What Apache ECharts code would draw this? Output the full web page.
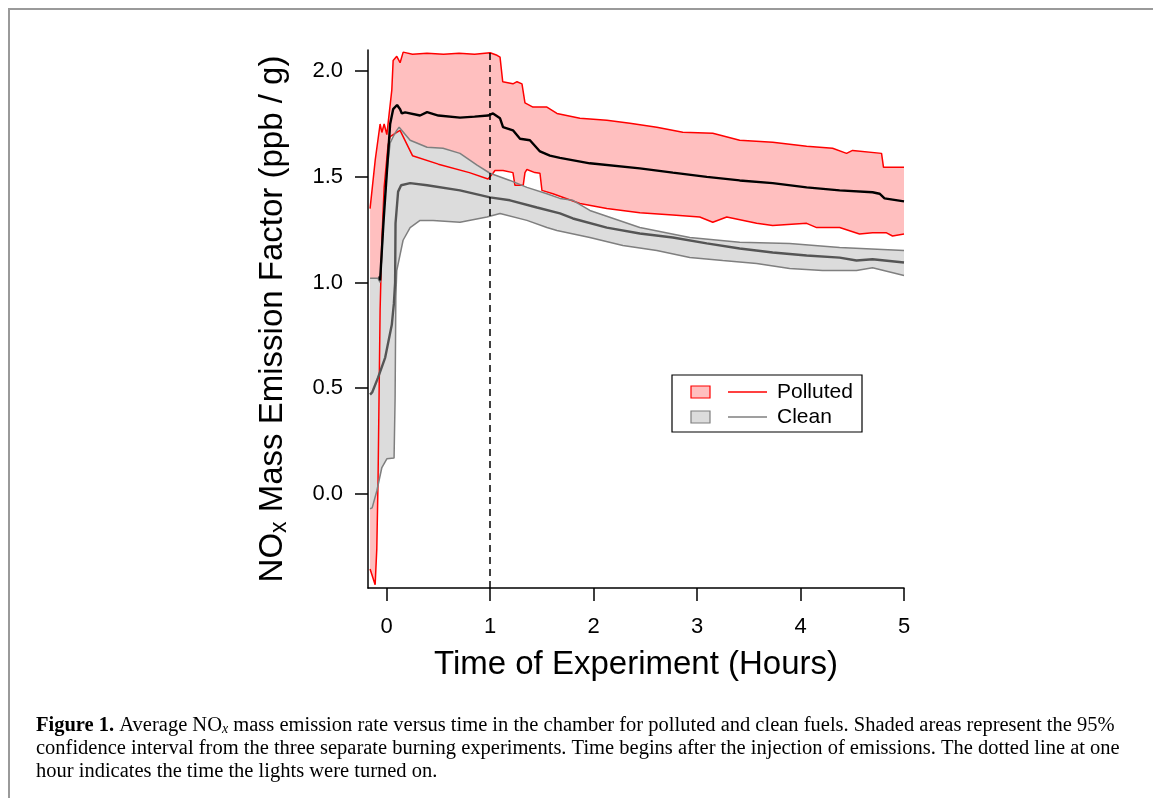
<!DOCTYPE html>
<html>
<head>
<meta charset="utf-8">
<script src="https://cdn.jsdelivr.net/npm/echarts@6/dist/echarts.min.js"></script>
<style>
html,body{margin:0;padding:0;background:#fff;}
#chart{width:1153px;height:798px;}
</style>
</head>
<body>
<div id="chart"></div>
<script>
// values: [hours, ppb/g]
var pollutedUpper = [[-0.16,1.35],[-0.11,1.58],[-0.063,1.75],[-0.046,1.71],[-0.024,1.75],[0.002,1.70],[0.05,1.91],[0.063,2.05],[0.098,2.07],[0.13,2.04],[0.16,2.09],[0.25,2.08],[0.39,2.085],[0.55,2.08],[0.7,2.085],[0.85,2.08],[1.0,2.087],[1.067,2.075],[1.096,2.066],[1.122,1.95],[1.221,1.94],[1.26,1.95],[1.308,1.94],[1.337,1.85],[1.414,1.83],[1.549,1.83],[1.646,1.80],[1.868,1.777],[2.128,1.768],[2.351,1.753],[2.611,1.735],[2.862,1.711],[3.152,1.706],[3.412,1.673],[3.731,1.664],[4.059,1.645],[4.31,1.635],[4.445,1.611],[4.503,1.625],[4.783,1.611],[4.802,1.545],[5.0,1.545]];
var pollutedLower = [[-0.16,-0.355],[-0.111,-0.43],[-0.095,-0.26],[-0.083,0.06],[-0.063,0.87],[-0.046,1.2],[-0.024,1.45],[0.014,1.65],[0.034,1.69],[0.098,1.71],[0.13,1.72],[0.25,1.6],[0.5,1.56],[0.8,1.52],[0.98,1.49],[1.028,1.517],[1.047,1.53],[1.125,1.53],[1.221,1.52],[1.24,1.46],[1.32,1.46],[1.337,1.52],[1.356,1.535],[1.433,1.52],[1.482,1.517],[1.501,1.436],[1.607,1.42],[1.868,1.374],[2.128,1.35],[2.447,1.33],[2.766,1.32],[3.026,1.31],[3.152,1.285],[3.287,1.31],[3.576,1.28],[3.731,1.27],[4.059,1.28],[4.156,1.26],[4.378,1.26],[4.57,1.23],[4.696,1.235],[4.831,1.235],[4.889,1.22],[5.0,1.23]];
var pollutedMean = [[-0.07,1.03],[-0.063,1.01],[-0.031,1.28],[0.002,1.52],[0.034,1.75],[0.063,1.82],[0.101,1.84],[0.13,1.82],[0.147,1.80],[0.179,1.805],[0.323,1.79],[0.391,1.806],[0.5,1.79],[0.709,1.78],[0.85,1.785],[0.98,1.79],[1.028,1.80],[1.096,1.777],[1.125,1.735],[1.221,1.72],[1.289,1.68],[1.385,1.673],[1.482,1.62],[1.578,1.60],[1.675,1.59],[1.964,1.564],[2.447,1.54],[2.766,1.52],[3.094,1.50],[3.412,1.483],[3.731,1.47],[4.059,1.45],[4.378,1.436],[4.696,1.427],[4.764,1.42],[4.812,1.398],[5.0,1.384]];
var cleanUpper = [[-0.16,1.02],[-0.083,1.02],[-0.063,1.0],[-0.05,1.1],[-0.024,1.35],[0.002,1.52],[0.034,1.66],[0.063,1.69],[0.098,1.72],[0.121,1.735],[0.227,1.673],[0.391,1.64],[0.545,1.635],[0.709,1.611],[0.874,1.555],[0.999,1.517],[1.192,1.483],[1.356,1.45],[1.549,1.42],[1.675,1.398],[1.8,1.389],[1.964,1.341],[2.447,1.26],[2.93,1.213],[3.412,1.19],[3.895,1.185],[4.378,1.166],[5.0,1.152]];
var cleanLower = [[-0.16,-0.07],[-0.14,-0.066],[-0.095,0.014],[-0.046,0.125],[0.002,0.166],[0.072,0.17],[0.082,0.455],[0.089,0.93],[0.098,1.056],[0.159,1.2],[0.227,1.26],[0.323,1.294],[0.449,1.294],[0.709,1.285],[0.97,1.31],[1.096,1.327],[1.356,1.294],[1.549,1.26],[1.646,1.246],[1.964,1.213],[2.283,1.175],[2.611,1.152],[2.93,1.118],[3.248,1.104],[3.576,1.09],[3.895,1.066],[4.213,1.057],[4.541,1.057],[4.696,1.07],[5.0,1.033]];
var cleanMean = [[-0.16,0.47],[-0.14,0.48],[-0.083,0.55],[-0.014,0.645],[0.05,0.8],[0.07,0.9],[0.082,1.0],[0.086,1.28],[0.111,1.43],[0.14,1.46],[0.227,1.47],[0.391,1.46],[0.709,1.436],[0.999,1.403],[1.192,1.389],[1.453,1.355],[1.675,1.327],[1.8,1.303],[2.128,1.26],[2.447,1.232],[2.766,1.213],[3.094,1.185],[3.412,1.161],[3.731,1.142],[4.059,1.128],[4.378,1.118],[4.541,1.104],[4.696,1.11],[5.0,1.095]];
var xTicks = [0,1,2,3,4,5];
var yTicks = [0,0.5,1,1.5,2];
var lightsOn = 1;

var chart = echarts.init(document.getElementById('chart'));

// shaded 95% interval: upper edge then lower edge backwards
function band(upper, lower, fill){
	return {
		type:'custom',
		silent:true,
		data:[[0,0]],
		renderItem:function(params, api){
			var pts = upper.map(function(p){return api.coord(p);});
			var back = lower.slice().reverse().map(function(p){return api.coord(p);});
			return {type:'polygon', shape:{points:pts.concat(back)}, style:{fill:fill}};
		}
	};
}
function line(data, color, width){
	return {type:'line', data:data, showSymbol:false, silent:true, lineStyle:{color:color, width:width}};
}

var meanBlack = line(pollutedMean, '#000', 2.4);
meanBlack.markLine = {
	silent:true,
	symbol:['none','none'],
	label:{show:false},
	lineStyle:{color:'#000', type:[7,5], width:1.5},
	data:[{xAxis:lightsOn}]
};

var font = 'Liberation Sans';
var option = {
	animation:false,
	grid:{left:368, right:249, top:50, bottom:210},
	xAxis:{
		type:'value', min:-0.18, max:5,
		name:'Time of Experiment (Hours)', nameLocation:'middle', nameGap:60,
		nameTextStyle:{fontFamily:font, fontSize:33, color:'#000'},
		axisLine:{onZero:false, lineStyle:{color:'#000', width:1.5}},
		axisTick:{length:13, lineStyle:{color:'#000', width:1.5}, customValues:xTicks},
		axisLabel:{fontFamily:font, fontSize:22, color:'#000', margin:28, customValues:xTicks},
		splitLine:{show:false}
	},
	yAxis:{
		type:'value', min:-0.445, max:2.1,
		name:'{a|NO}{s|x}{a| Mass Emission Factor (ppb / g)}', nameLocation:'middle', nameGap:75,
		nameTextStyle:{
			fontFamily:font, fontSize:33, color:'#000',
			rich:{
				a:{fontFamily:font, fontSize:33, color:'#000', lineHeight:40},
				s:{fontFamily:font, fontSize:23, color:'#000', lineHeight:40, padding:[14,0,0,0]}
			}
		},
		axisLine:{show:true, onZero:false, lineStyle:{color:'#000', width:1.5}},
		axisTick:{show:true, length:13, lineStyle:{color:'#000', width:1.5}, customValues:yTicks},
		axisLabel:{fontFamily:font, fontSize:22, color:'#000', margin:25, customValues:yTicks,
			formatter:function(v){return v.toFixed(1);}},
		splitLine:{show:false}
	},
	series:[
		band(pollutedUpper, pollutedLower, '#ffbfbf'),
		line(pollutedUpper, '#ff0000', 1.5),
		line(pollutedLower, '#ff0000', 1.5),
		band(cleanUpper, cleanLower, '#dcdcdc'),
		line(cleanUpper, '#7f7f7f', 1.5),
		line(cleanLower, '#7f7f7f', 1.5),
		line(cleanMean, '#555555', 2.4),
		meanBlack
	],
	graphic:[
		// figure frame
		{type:'line', shape:{x1:8, y1:9, x2:1153, y2:9}, style:{stroke:'#9a9a9a', lineWidth:2}},
		{type:'line', shape:{x1:9, y1:9, x2:9, y2:798}, style:{stroke:'#9a9a9a', lineWidth:2}},
		// legend
		{type:'rect', shape:{x:672, y:375, width:190, height:57}, style:{fill:'#fff', stroke:'#000', lineWidth:1.2}, z:10},
		{type:'rect', shape:{x:691, y:386, width:19, height:12}, style:{fill:'#ffbfbf', stroke:'#ff0000', lineWidth:1.2}, z:11},
		{type:'line', shape:{x1:728, y1:392, x2:767, y2:392}, style:{stroke:'#ff0000', lineWidth:1.4}, z:11},
		{type:'text', x:777, y:392, style:{text:'Polluted', font:'21px "Liberation Sans"', fill:'#000', verticalAlign:'middle'}, z:11},
		{type:'rect', shape:{x:691, y:411, width:19, height:12}, style:{fill:'#dcdcdc', stroke:'#7f7f7f', lineWidth:1.2}, z:11},
		{type:'line', shape:{x1:728, y1:417, x2:767, y2:417}, style:{stroke:'#7f7f7f', lineWidth:1.4}, z:11},
		{type:'text', x:777, y:417, style:{text:'Clean', font:'21px "Liberation Sans"', fill:'#000', verticalAlign:'middle'}, z:11},
		// caption
		{type:'text', x:36, y:714, style:{
			text:'{b|Figure 1.} Average NO{i|x} mass emission rate versus time in the chamber for polluted and clean fuels. Shaded areas represent the 95%\n'+
				'confidence interval from the three separate burning experiments. Time begins after the injection of emissions. The dotted line at one\n'+
				'hour indicates the time the lights were turned on.',
			font:'20.5px "Liberation Serif"', fill:'#000', lineHeight:23,
			rich:{
				b:{font:'bold 20.5px "Liberation Serif"', fill:'#000', lineHeight:23},
				i:{font:'italic 14px "Liberation Serif"', fill:'#000', lineHeight:23, padding:[8,0,0,0]}
			}
		}}
	]
};
chart.setOption(option);
</script>
</body>
</html>
